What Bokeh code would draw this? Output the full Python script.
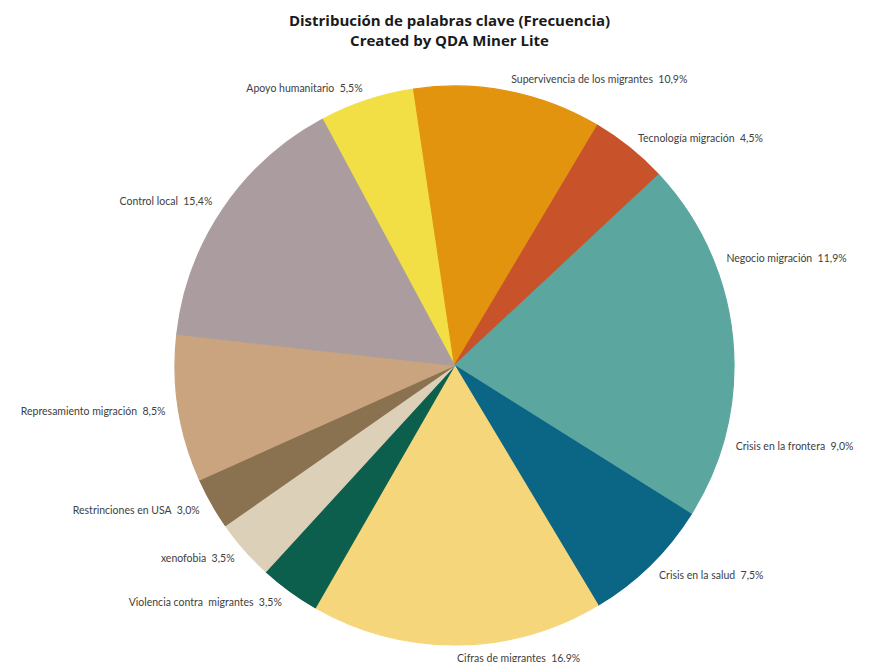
import numpy as np
from bokeh.plotting import figure
from bokeh.models import Range1d, ColumnDataSource
from bokeh.embed import file_html
from bokeh.resources import INLINE
from bokeh.core.properties import value

# ---- data ----
categories = ["Apoyo humanitario", "Supervivencia de los migrantes", "Tecnología migración",
              "Negocio migración", "Crisis en la frontera", "Crisis en la salud",
              "Cifras de migrantes", "Violencia contra\u00a0 migrantes", "xenofobia",
              "Restrinciones en USA", "Represamiento migración", "Control local"]
percent = [5.5, 10.9, 4.5, 11.9, 9.0, 7.5, 16.9, 3.5, 3.5, 3.0, 8.5, 15.4]
colors = ["#f2df45", "#e3940e", "#c8532b", "#5ca6a0", "#5ca6a0", "#0b6585",
          "#f6d67a", "#0d5f4d", "#dcd0b8", "#8a7150", "#c9a47f", "#ab9d9f"]
title_lines = ["Distribución de palabras clave (Frecuencia)", "Created by QDA Miner Lite"]

# ---- layout ----
W, H = 868, 662
cx, cy, R = 454.0, H - 365.0, 279.5
first_slice_deg = 331.8   # clockwise from 12 o'clock
label_gap = 13.0

vals = np.array(percent, dtype=float)
frac = vals / vals.sum()
cum = np.concatenate([[0.0], np.cumsum(frac)]) * 360.0
theta_start = first_slice_deg + cum[:-1]
theta_end = first_slice_deg + cum[1:]
theta_mid = (theta_start + theta_end) / 2.0

start_ang = np.radians(90.0 - theta_start)
end_ang = np.radians(90.0 - theta_end)

src = ColumnDataSource(dict(x=[cx] * len(vals), y=[cy] * len(vals),
                            start=start_ang, end=end_ang, color=colors))

p = figure(width=W, height=H, output_backend="svg", toolbar_location=None,
           x_range=Range1d(0, W), y_range=Range1d(0, H), min_border=0,
           background_fill_color="white", border_fill_color="white")
p.axis.visible = False
p.grid.visible = False
p.outline_line_color = None

p.wedge(x="x", y="y", radius=R, start_angle="start", end_angle="end",
        direction="clock", fill_color="color", line_color="color", line_width=1.2,
        source=src)

# labels
RL = R + label_gap
tm = np.radians(theta_mid)
lx = cx + RL * np.sin(tm)
ly = cy + RL * np.cos(tm)
ly = np.maximum(ly, 5.0)
texts = [f"{c} \u00a0{v:.1f}%".replace(".", ",") for c, v in zip(categories, percent)]
align = ["left" if np.sin(a) >= -1e-9 else "right" for a in tm]
lsrc = ColumnDataSource(dict(x=lx, y=ly, text=texts, align=align))
p.text(x="x", y="y", text="text", text_align="align", text_baseline="middle",
       text_font=value("Lato"), text_font_size="10.5px", text_color="#404040",
       source=lsrc)

# title
p.text(x=[449, 449], y=[H - 19, H - 39], text=title_lines, text_align="center",
       text_baseline="middle", text_font=value("Open Sans"), text_font_style="bold",
       text_font_size="15px", text_color="#1a1a1a")

open("out.html", "w").write(file_html(p, INLINE))
